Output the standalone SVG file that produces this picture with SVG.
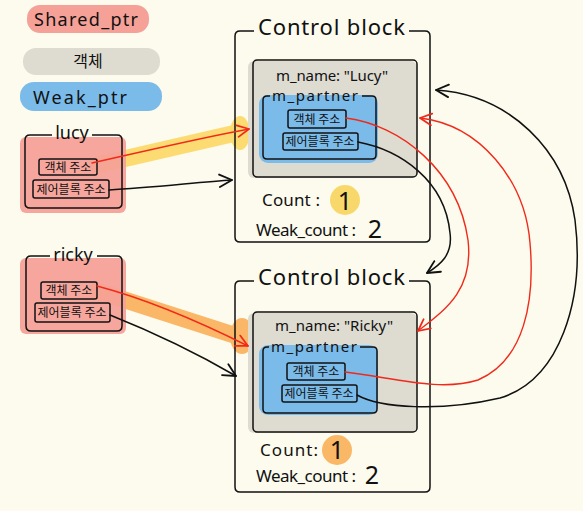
<svg xmlns="http://www.w3.org/2000/svg" width="583" height="511" viewBox="0 0 583 511">
<style>
text{font-family:"Noto Sans","Liberation Sans","Noto Sans CJK KR",sans-serif;fill:#111}
.ko{font-family:"Noto Sans CJK KR",sans-serif;font-size:12px;text-anchor:middle}
.box{fill:none;stroke:#111;stroke-width:1.5}
.pink{fill:#f5a197}
.gray{fill:#dedbd1}
.blue{fill:#7bbbe9}
.red{fill:none;stroke:#f02a1a;stroke-width:1.4;stroke-linecap:round}
.blk{fill:none;stroke:#111;stroke-width:1.5;stroke-linecap:round}
.ttl{font-size:22px}
.lbl{font-size:15px}
.cnt{font-size:17px}
.num{font-size:25px;text-anchor:middle}
</style>
<defs>
<marker id="ar" viewBox="0 0 12 12" refX="11" refY="6" markerWidth="14" markerHeight="14" markerUnits="userSpaceOnUse" orient="auto">
<path d="M1,1 L11,6 L1,11" fill="none" stroke="#f02a1a" stroke-width="1.5" stroke-linecap="round" stroke-linejoin="round"/>
</marker>
<marker id="ab" viewBox="0 0 12 12" refX="11" refY="6" markerWidth="15" markerHeight="15" markerUnits="userSpaceOnUse" orient="auto">
<path d="M1,1 L11,6 L1,11" fill="none" stroke="#111" stroke-width="1.5" stroke-linecap="round" stroke-linejoin="round"/>
</marker>
</defs>
<rect width="583" height="511" fill="#fcfbee"/>

<g id="legend-shared">
<rect x="27" y="5" width="122" height="28" rx="13" class="pink"/>
<text x="34" y="26" font-size="18" textLength="104">Shared_ptr</text>
</g>
<g id="legend-object">
<rect x="23" y="48" width="137" height="27" rx="13" class="gray"/>
<text x="88" y="67" font-size="16" text-anchor="middle" font-family="Noto Sans CJK KR, sans-serif">객체</text>
</g>
<g id="legend-weak">
<rect x="20" y="82" width="142" height="29" rx="14" class="blue"/>
<text x="33" y="104" font-size="18" textLength="94">Weak_ptr</text>
</g>

<g id="highlights">
<line x1="97" y1="165" x2="236" y2="133" stroke="#fcdc72" stroke-width="17" stroke-linecap="round"/>
<ellipse cx="240" cy="133" rx="10" ry="17" fill="#fcdc72"/>
<line x1="97" y1="291" x2="240" y2="337" stroke="#fbb768" stroke-width="17" stroke-linecap="round"/>
<ellipse cx="242" cy="336" rx="12" ry="18" fill="#fbb768"/>
</g>

<g id="lucy">
<rect x="20" y="137" width="106" height="76" rx="6" class="pink" opacity="0.95"/>
<path d="M52,135 H30 Q25,135 25,140 V203 Q25,208 30,208 H117 Q122,208 122,203 V140 Q122,135 117,135 H92" class="box"/>
<text x="72" y="139" font-size="18" text-anchor="middle">lucy</text>
<rect x="39" y="159" width="58" height="16" rx="2" class="box"/>
<text x="68" y="172" class="ko">객체 주소</text>
<rect x="33" y="180" width="76" height="18" rx="2" class="box"/>
<text x="71" y="194" class="ko">제어블록 주소</text>
</g>

<g id="ricky">
<rect x="20" y="258" width="106" height="76" rx="6" class="pink" opacity="0.95"/>
<path d="M50,256 H31 Q26,256 26,261 V326 Q26,331 31,331 H117 Q122,331 122,326 V261 Q122,256 117,256 H97" class="box"/>
<text x="73" y="261" font-size="18" text-anchor="middle">ricky</text>
<rect x="41" y="282" width="56" height="17" rx="2" class="box"/>
<text x="69" y="295" class="ko">객체 주소</text>
<rect x="35" y="303" width="75" height="19" rx="2" class="box"/>
<text x="72" y="317" class="ko">제어블록 주소</text>
</g>

<g id="control-block-lucy">
<path d="M254,31 H240 Q235,31 235,36 V237 Q235,242 240,242 H425 Q430,242 430,237 V36 Q430,31 425,31 H409" class="box"/>
<text x="258" y="35" class="ttl" textLength="147">Control block</text>
<rect x="248" y="61" width="169" height="117" rx="6" class="gray"/>
<rect x="253" y="60" width="164" height="117" rx="4" class="box"/>
<text x="276" y="81" class="lbl" textLength="112">m_name: "Lucy"</text>
<rect x="259" y="95" width="119" height="68" rx="9" class="blue"/>
<path d="M270,96 H267 Q263,96 263,100 V155 Q263,159 267,159 H372 Q376,159 376,155 V100 Q376,96 372,96 H362" class="box"/>
<text x="272" y="101" class="lbl" textLength="86">m_partner</text>
<rect x="288" y="110" width="58" height="18" rx="2" class="box"/>
<text x="317" y="124" class="ko">객체 주소</text>
<rect x="283" y="133" width="75" height="17" rx="2" class="box"/>
<text x="320" y="146" class="ko">제어블록 주소</text>
<text x="262" y="206" class="cnt" textLength="58">Count :</text>
<circle cx="345" cy="200" r="15" fill="#f9d86b"/>
<text x="345" y="210" class="num">1</text>
<text x="256" y="236" class="cnt" textLength="100">Weak_count :</text>
<text x="375" y="238" class="num">2</text>
</g>

<g id="control-block-ricky">
<path d="M254,281 H240 Q235,281 235,286 V487 Q235,492 240,492 H425 Q430,492 430,487 V286 Q430,281 425,281 H409" class="box"/>
<text x="258" y="285" class="ttl" textLength="147">Control block</text>
<rect x="248" y="313" width="169" height="120" rx="6" class="gray"/>
<rect x="253" y="312" width="164" height="120" rx="4" class="box"/>
<text x="275" y="331" class="lbl" textLength="118">m_name: "Ricky"</text>
<rect x="259" y="345" width="119" height="70" rx="9" class="blue"/>
<path d="M269,347 H267 Q263,347 263,351 V409 Q263,413 267,413 H373 Q377,413 377,409 V351 Q377,347 373,347 H360" class="box"/>
<text x="271" y="352" class="lbl" textLength="86">m_partner</text>
<rect x="287" y="363" width="58" height="17" rx="2" class="box"/>
<text x="316" y="376" class="ko">객체 주소</text>
<rect x="282" y="385" width="75" height="17" rx="2" class="box"/>
<text x="319" y="398" class="ko">제어블록 주소</text>
<text x="260" y="456" class="cnt" textLength="58">Count:</text>
<circle cx="337" cy="450" r="15" fill="#fab766"/>
<text x="337" y="459" class="num">1</text>
<text x="256" y="482" class="cnt" textLength="100">Weak_count :</text>
<text x="372" y="484" class="num">2</text>
</g>

<g id="connectors">
<path d="M92,163 C150,150 200,138 249,129" class="red" marker-end="url(#ar)"/>
<path d="M109,190 C150,188 200,182 232,180" class="blk" marker-end="url(#ab)"/>
<path d="M97,286 C150,300 200,322 248,346" class="red" marker-end="url(#ar)"/>
<path d="M110,315 C160,335 200,355 236,376" class="blk" marker-end="url(#ab)"/>
<path d="M346,118 C400,125 458,170 468,240 C474,290 445,310 418,331" class="red" marker-end="url(#ar)"/>
<path d="M345,372 C395,378 440,392 478,380 C525,360 535,300 530,243 C525,180 480,125 420,118" class="red" marker-end="url(#ar)"/>
<path d="M358,142 C400,150 445,180 450,233 C453,255 440,265 427,273" class="blk" marker-end="url(#ab)"/>
<path d="M357,395 C380,408 440,412 500,398 C560,380 585,300 575,220 C565,150 510,95 436,90" class="blk" marker-end="url(#ab)"/>
</g>
</svg>
